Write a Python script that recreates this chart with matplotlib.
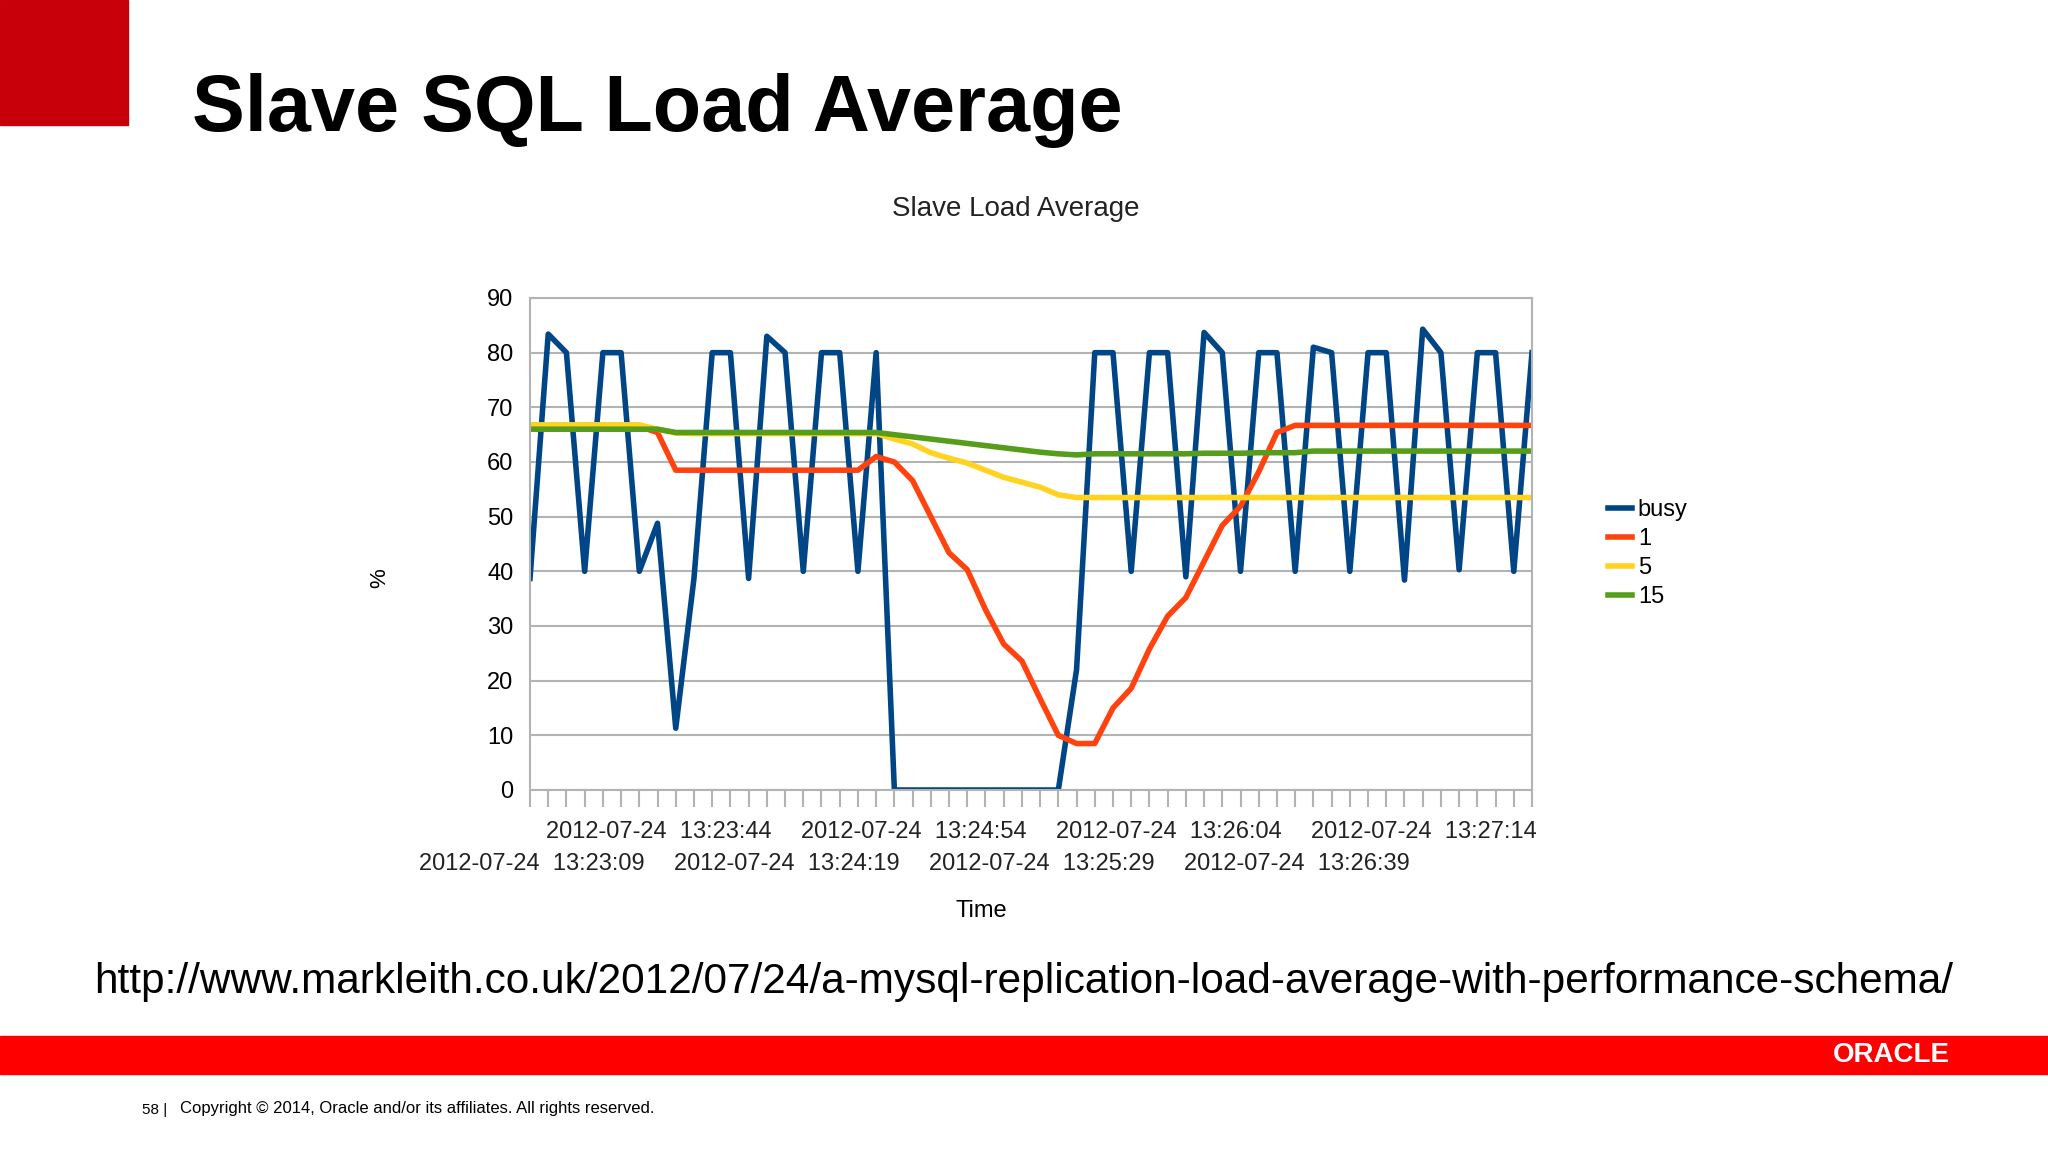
import matplotlib
matplotlib.use("Agg")
import matplotlib.pyplot as plt
from matplotlib.patches import Rectangle

busy = [38.7, 83.4, 80, 40, 80, 80, 40, 48.8, 11.3, 38.7, 80, 80, 38.7, 83, 80, 40, 80, 80, 40, 80,
        0, 0, 0, 0, 0, 0, 0, 0, 0, 0, 22, 80, 80, 40, 80, 80, 39, 83.7, 80, 40,
        80, 80, 40, 81, 80, 40, 80, 80, 38.4, 84.3, 80, 40.3, 80, 80, 40, 80]
one = [66.5, 66.5, 66.5, 66.5, 66.5, 66.5, 66.5, 65.4, 58.5, 58.5, 58.5, 58.5, 58.5, 58.5, 58.5, 58.5, 58.5, 58.5, 58.5, 61,
       60, 56.6, 50, 43.4, 40.3, 33, 26.7, 23.6, 16.7, 10, 8.5, 8.5, 15, 18.6, 25.8, 31.8, 35.2, 41.8, 48.4, 51.9,
       58.2, 65.4, 66.7, 66.7, 66.7, 66.7, 66.7, 66.7, 66.7, 66.7, 66.7, 66.7, 66.7, 66.7, 66.7, 66.7]
five = [66.8, 66.8, 66.8, 66.8, 66.8, 66.8, 66.8, 66, 65.3, 65.2, 65.2, 65.2, 65.2, 65.2, 65.2, 65.2, 65.2, 65.2, 65.2, 65.2,
        64.2, 63.3, 61.7, 60.7, 59.8, 58.5, 57.2, 56.3, 55.4, 54, 53.5, 53.5, 53.5, 53.5, 53.5, 53.5, 53.5, 53.5, 53.5, 53.5,
        53.5, 53.5, 53.5, 53.5, 53.5, 53.5, 53.5, 53.5, 53.5, 53.5, 53.5, 53.5, 53.5, 53.5, 53.5, 53.5]
fifteen = [66, 66, 66, 66, 66, 66, 66, 66, 65.4, 65.4, 65.4, 65.4, 65.4, 65.4, 65.4, 65.4, 65.4, 65.4, 65.4, 65.4,
           65, 64.6, 64.2, 63.8, 63.4, 63, 62.6, 62.2, 61.8, 61.5, 61.3, 61.5, 61.5, 61.5, 61.5, 61.5, 61.5, 61.6, 61.6, 61.6,
           61.7, 61.7, 61.7, 62, 62, 62, 62, 62, 62, 62, 62, 62, 62, 62, 62, 62]
label_idx = [1, 8, 15, 22, 29, 36, 43, 50]
label_txt = ["2012-07-24  13:23:09", "2012-07-24  13:23:44", "2012-07-24  13:24:19", "2012-07-24  13:24:54",
             "2012-07-24  13:25:29", "2012-07-24  13:26:04", "2012-07-24  13:26:39", "2012-07-24  13:27:14"]

plt.rcParams['font.family'] = ['Liberation Sans', 'DejaVu Sans']
fig = plt.figure(figsize=(20.48, 11.52), dpi=100)
fig.patches.append(Rectangle((0, 1 - 125/1152), 128/2048, 125/1152, transform=fig.transFigure, color='#c8000a'))
fig.patches.append(Rectangle((0, 1 - 1074/1152), 1, 38/1152, transform=fig.transFigure, color='#ff0000'))
fig.text(192/2048, 1 - 110/1152, "Slave SQL Load Average", fontsize=57, fontweight='bold', va='center')
fig.text(0.5, 1 - 982/1152, "http://www.markleith.co.uk/2012/07/24/a-mysql-replication-load-average-with-performance-schema/",
         fontsize=30.5, ha='center', va='center')
fig.text(1950/2048, 1 - 1055/1152, "ORACLE", fontsize=20, color='white', ha='right', va='center', fontweight='bold')
fig.text(142/2048, 1 - 1110/1152, "58 |", fontsize=11, va='center')
fig.text(180/2048, 1 - 1108/1152, "Copyright © 2014, Oracle and/or its affiliates. All rights reserved.", fontsize=12, va='center')

ax = fig.add_axes([530/2048, 1 - 790/1152, 1002/2048, 492/1152])
x = list(range(len(busy)))
ax.plot(x, busy, color='#004586', lw=4, label='busy')
ax.plot(x, one, color='#ff420e', lw=4, label='1')
ax.plot(x, five, color='#ffd320', lw=4, label='5')
ax.plot(x, fifteen, color='#579d1c', lw=4, label='15')
ax.set_xlim(0, len(busy) - 1)
ax.set_ylim(0, 90)
ax.set_yticks(range(0, 91, 10))
ax.yaxis.grid(True, color='#b3b3b3', lw=1.5)
ax.set_axisbelow(True)
for s in ax.spines.values():
    s.set_color('#b3b3b3'); s.set_linewidth(1.5)
ax.set_xticks(x, minor=True)
ax.set_xticks(label_idx)
ax.set_xticklabels([])
ax.tick_params(axis='x', which='both', direction='out', length=12, color='#b3b3b3', width=1.5)
ax.tick_params(axis='y', length=0, labelsize=17, pad=12)
for i, (k, t) in enumerate(zip(label_idx, label_txt)):
    ax.annotate(t, xy=(k, 0), xycoords='data', xytext=(-12, -30 if i % 2 else -53), textcoords='offset points',
                fontsize=17, ha='center', va='center', color='#222222')
ax.text(0.485, 1.18, "Slave Load Average", transform=ax.transAxes, fontsize=20, ha='center', va='center', color='#222222')
ax.text(-0.16, 0.43, "%", transform=ax.transAxes, rotation=90, fontsize=16, va='center')
ax.text(0.45, -0.245, "Time", transform=ax.transAxes, fontsize=17, ha='center', va='center')
ax.legend(loc='center left', bbox_to_anchor=(1.055, 0.48), frameon=False, fontsize=17,
          handlelength=1.0, handletextpad=0.25, labelspacing=0.3)
fig.savefig("out.png", dpi=100)
